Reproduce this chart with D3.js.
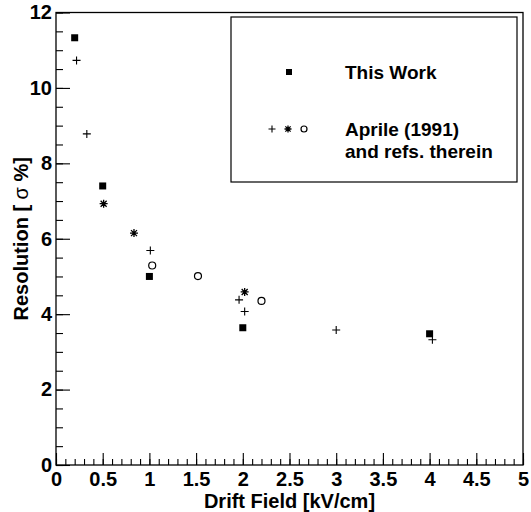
<!DOCTYPE html>
<html>
<head>
<meta charset="utf-8">
<script src="https://cdn.jsdelivr.net/npm/d3@7"></script>
<style>
  body { margin: 0; background: #fff; }
  text { font-family: "Liberation Sans", Arial, sans-serif; font-weight: bold; }
</style>
</head>
<body>
<div id="chart"></div>
<script>
// data
var workX = [0.2, 0.5, 1.0, 2.0, 4.0]
var workY = [11.33, 7.4, 5.0, 3.64, 3.48]

var plusX = [0.22, 0.33, 1.01, 1.96, 2.02, 3.0, 4.03]
var plusY = [10.73, 8.78, 5.69, 4.38, 4.07, 3.58, 3.32]

var starX = [0.51, 0.835, 2.02]
var starY = [6.93, 6.15, 4.59]

var circX = [1.03, 1.52, 2.2]
var circY = [5.29, 5.01, 4.35]

var xMajor = [0, 0.5, 1, 1.5, 2, 2.5, 3, 3.5, 4, 4.5, 5]
var yMajor = [0, 2, 4, 6, 8, 10, 12]

var W = 531, H = 512
// plot frame edges (px)
var fL = 56, fR = 523, fT = 12.5, fB = 465

var svg = d3.select("#chart").append("svg")
  .attr("width", W).attr("height", H)

var x = d3.scaleLinear().domain([0, 5]).range([fL, fR])
var y = d3.scaleLinear().domain([0, 12]).range([fB, fT])

// frame
svg.append("rect")
  .attr("x", fL).attr("y", fT)
  .attr("width", fR - fL).attr("height", fB - fT)
  .attr("fill", "none").attr("stroke", "#000").attr("stroke-width", 1.3)

// minor ticks
var xMinor = d3.range(0, 5.0001, 0.1)
var yMinor = d3.range(0, 12.0001, 0.5)

svg.append("g")
  .attr("transform", "translate(0," + fB + ")")
  .call(d3.axisBottom(x).tickValues(xMinor).tickSize(-6).tickFormat(""))
svg.append("g")
  .attr("transform", "translate(" + fL + ",0)")
  .call(d3.axisLeft(y).tickValues(yMinor).tickSize(-7).tickFormat(""))

// major ticks with labels
svg.append("g")
  .attr("transform", "translate(0," + fB + ")")
  .call(d3.axisBottom(x).tickValues(xMajor).tickSize(-12).tickPadding(7).tickFormat(d3.format("")))
svg.append("g")
  .attr("transform", "translate(" + fL + ",0)")
  .call(d3.axisLeft(y).tickValues(yMajor).tickSize(-14).tickPadding(4))

svg.selectAll(".domain").remove()
svg.selectAll(".tick line").attr("stroke", "#000").attr("stroke-width", 1.1)
svg.selectAll(".tick text")
  .attr("fill", "#000")
  .style("font-size", "20px")
  .style("font-family", "'Liberation Sans', Arial, sans-serif")
  .style("font-weight", "bold")

// axis titles
svg.append("text")
  .attr("x", (fL + fR) / 2).attr("y", 508)
  .attr("text-anchor", "middle")
  .style("font-size", "20px")
  .text("Drift Field [kV/cm]")

var yt = svg.append("text")
  .attr("transform", "translate(28," + (fT + fB) / 2 + ") rotate(-90)")
  .attr("text-anchor", "middle")
  .style("font-size", "20px")
yt.append("tspan").text("Resolution [ ")
yt.append("tspan").style("font-weight", "normal").text("σ")
yt.append("tspan").text(" %]")

// marker drawing
function square(g, cx, cy, s) {
  g.append("rect").attr("x", cx - s / 2).attr("y", cy - s / 2)
    .attr("width", s).attr("height", s).attr("fill", "#000")
}
function plus(g, cx, cy, s) {
  g.append("path")
    .attr("d", "M" + (cx - s / 2) + "," + cy + "H" + (cx + s / 2) + "M" + cx + "," + (cy - s / 2) + "V" + (cy + s / 2))
    .attr("stroke", "#000").attr("stroke-width", 1.1).attr("fill", "none")
}
function star(g, cx, cy, s) {
  var h = s / 2, d = h * 0.75
  g.append("path")
    .attr("d", "M" + (cx - h) + "," + cy + "H" + (cx + h) +
      "M" + cx + "," + (cy - h) + "V" + (cy + h) +
      "M" + (cx - d) + "," + (cy - d) + "L" + (cx + d) + "," + (cy + d) +
      "M" + (cx - d) + "," + (cy + d) + "L" + (cx + d) + "," + (cy - d))
    .attr("stroke", "#000").attr("stroke-width", 1.3).attr("fill", "none")
}
function circle(g, cx, cy, r) {
  g.append("circle").attr("cx", cx).attr("cy", cy).attr("r", r)
    .attr("fill", "none").attr("stroke", "#000").attr("stroke-width", 1.2)
}

var pts = svg.append("g")
workX.forEach(function(d, i) { square(pts, x(d), y(workY[i]), 7) })
plusX.forEach(function(d, i) { plus(pts, x(d), y(plusY[i]), 8) })
starX.forEach(function(d, i) { star(pts, x(d), y(starY[i]), 8) })
circX.forEach(function(d, i) { circle(pts, x(d), y(circY[i]), 3.5) })

// legend
var lg = svg.append("g")
lg.append("rect")
  .attr("x", 231).attr("y", 17)
  .attr("width", 286).attr("height", 165)
  .attr("fill", "#fff").attr("stroke", "#000").attr("stroke-width", 1.2)

square(lg, 289, 72, 6)
lg.append("text").attr("x", 345).attr("y", 72).attr("dy", "0.35em")
  .style("font-size", "19px").text("This Work")

plus(lg, 272, 129, 7)
star(lg, 288, 129, 7)
circle(lg, 304, 129, 3)
lg.append("text").attr("x", 345).attr("y", 129).attr("dy", "0.35em")
  .style("font-size", "19px").text("Aprile (1991)")
lg.append("text").attr("x", 345).attr("y", 151).attr("dy", "0.35em")
  .style("font-size", "19px").text("and refs. therein")
</script>
</body>
</html>
